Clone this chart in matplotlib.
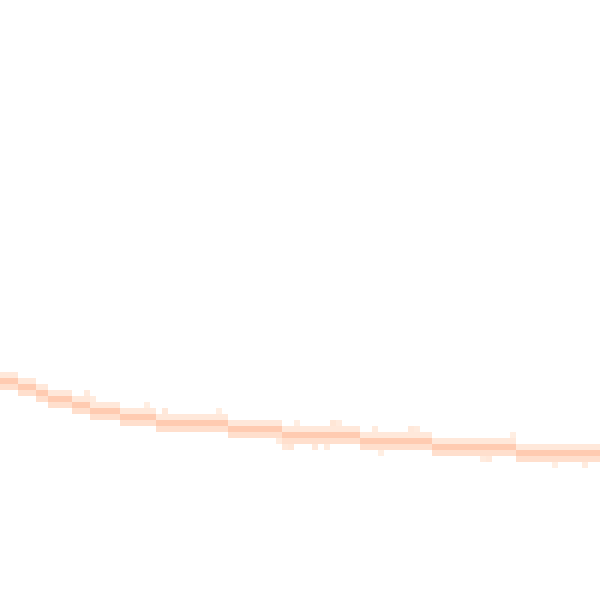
import matplotlib
matplotlib.use("Agg")
import matplotlib.pyplot as plt
import numpy as np
from matplotlib.colors import LinearSegmentedColormap

# row index (6px cells, counted from top) of the band centre for each of the 100 columns
center_row = [63, 63, 63, 64, 64,
              64, 65, 65, 66, 66,
              66, 66, 67, 67, 67, 68, 68,
              68, 68, 68, 69, 69,
              69, 69, 69, 69, 70, 70, 70,
              70, 70, 70, 70, 70,
              70, 70, 70, 70, 71, 71, 71, 71,
              71, 71, 71, 71, 71, 72, 72, 72,
              72, 72, 72, 72, 72, 72, 72, 72,
              72, 72, 73, 73, 73, 73, 73, 73, 73,
              73, 73, 73, 73, 73, 74, 74, 74,
              74, 74, 74, 74, 74, 74, 74, 74,
              74, 74, 74, 75, 75, 75, 75, 75, 75,
              75, 75, 75, 75, 75, 75, 75, 75]
# shade of the cell above, on and below the centre
above_val = 0.45
mid_val = 0.9
below_val = 0.6
# scattered extra cells outside the main band: (column, row, shade)
extra_cells = [(14, 65, 0.4), (15, 66, 0.4), (24, 67, 0.35), (27, 68, 0.45),
               (36, 68, 0.35), (46, 73, 0.4), (47, 74, 0.45), (48, 74, 0.5),
               (49, 70, 0.35), (52, 74, 0.45), (54, 74, 0.4), (55, 70, 0.5),
               (56, 70, 0.4), (62, 71, 0.4), (63, 75, 0.35), (68, 71, 0.45),
               (69, 71, 0.4), (80, 76, 0.4), (81, 76, 0.45), (85, 72, 0.35),
               (92, 77, 0.35), (97, 77, 0.4)]

n = 100
grid = np.full((n, n), np.nan)
for c, r in enumerate(center_row):
    grid[r - 1, c] = above_val
    grid[r, c] = mid_val
    grid[r + 1, c] = below_val
for c, r, v in extra_cells:
    grid[r, c] = v

cmap = LinearSegmentedColormap.from_list("peach", ["#ffffff", "#ffe6d6", "#ffc4a8"])

fig = plt.figure(figsize=(6, 6), dpi=100)
ax = fig.add_axes([0, 0, 1, 1])
edges = np.arange(n + 1) * 6
ax.pcolormesh(edges, edges, grid, cmap=cmap, vmin=0, vmax=1)
ax.set_xlim(0, 600)
ax.set_ylim(600, 0)
ax.axis("off")
fig.savefig("out.png", dpi=100, facecolor="white")
